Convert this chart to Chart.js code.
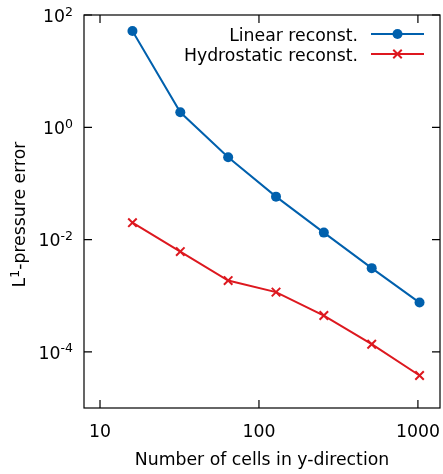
<!DOCTYPE html>
<html>
<head>
<meta charset="utf-8">
<script src="https://cdn.jsdelivr.net/npm/chart.js@4/dist/chart.umd.min.js"></script>
<style>
html,body{margin:0;padding:0;background:#fff;}
#wrap{width:443px;height:474px;}
</style>
</head>
<body>
<div id="wrap"><canvas id="c" width="443" height="474"></canvas></div>
<script>
const cells = [16, 32, 64, 128, 256, 512, 1024];
const linearErr = [51.9, 1.85, 0.293, 0.0582, 0.0133, 0.0031, 0.000755];
const hydroErr = [0.02, 0.00611, 0.00186, 0.00116, 0.000443, 0.000137, 3.79e-5];
const xTicks = [10, 100, 1000];
const xTickLabels = ['10', '100', '1000'];
const yTicks = [1e-4, 1e-2, 1e0, 1e2];
const yTickBase = '10';
const yTickExps = ['-4', '-2', '0', '2'];
const seriesNames = ['Linear reconst.', 'Hydrostatic reconst.'];
const seriesColors = ['#0060ad', '#dd181f'];
const xTitle = 'Number of cells in y-direction';
const yTitleParts = ['L', '1', '-pressure error'];

const FONT = "'DejaVu Sans', sans-serif";
const FS = 17.3;
const ES = 12.5;

const frameTicks = {
  id: 'frameTicks',
  afterDraw(chart) {
    const {ctx, chartArea: {left, right, top, bottom}, scales: {x, y}} = chart;
    ctx.save();
    ctx.strokeStyle = '#000';
    ctx.lineWidth = 1.2;
    ctx.strokeRect(left, top, right - left, bottom - top);
    const L = 8;
    ctx.beginPath();
    xTicks.forEach(v => {
      const px = x.getPixelForValue(v);
      ctx.moveTo(px, bottom); ctx.lineTo(px, bottom - L);
      ctx.moveTo(px, top); ctx.lineTo(px, top + L);
    });
    yTicks.forEach(v => {
      const py = y.getPixelForValue(v);
      ctx.moveTo(left, py); ctx.lineTo(left + L, py);
      ctx.moveTo(right, py); ctx.lineTo(right - L, py);
    });
    ctx.stroke();

    ctx.fillStyle = '#000';
    ctx.textBaseline = 'alphabetic';

    // x tick labels
    ctx.font = FS + 'px ' + FONT;
    ctx.textAlign = 'center';
    xTicks.forEach((v, i) => {
      ctx.fillText(xTickLabels[i], x.getPixelForValue(v), bottom + 29);
    });

    // y tick labels: base with raised exponent
    ctx.textAlign = 'left';
    yTicks.forEach((v, i) => {
      const py = y.getPixelForValue(v);
      ctx.font = ES + 'px ' + FONT;
      const ew = ctx.measureText(yTickExps[i]).width;
      ctx.font = FS + 'px ' + FONT;
      const bw = ctx.measureText(yTickBase).width;
      const x0 = left - 11 - ew - bw;
      ctx.fillText(yTickBase, x0, py + 6.8);
      ctx.font = ES + 'px ' + FONT;
      ctx.fillText(yTickExps[i], x0 + bw, py + 0.5);
    });

    // y title rotated
    ctx.save();
    ctx.translate(25, (top + bottom) / 2);
    ctx.rotate(-Math.PI / 2);
    ctx.font = FS + 'px ' + FONT;
    const w0 = ctx.measureText(yTitleParts[0]).width;
    const w2 = ctx.measureText(yTitleParts[2]).width;
    ctx.font = ES + 'px ' + FONT;
    const w1 = ctx.measureText(yTitleParts[1]).width;
    let tx = -(w0 + w1 + w2) / 2 - 3;
    ctx.font = FS + 'px ' + FONT;
    ctx.fillText(yTitleParts[0], tx, 0); tx += w0;
    ctx.font = ES + 'px ' + FONT;
    ctx.fillText(yTitleParts[1], tx, -6.5); tx += w1;
    ctx.font = FS + 'px ' + FONT;
    ctx.fillText(yTitleParts[2], tx, 0);
    ctx.restore();

    // legend
    ctx.font = FS + 'px ' + FONT;
    ctx.textAlign = 'right';
    const rows = [34, 54];
    chart.data.datasets.forEach((ds, i) => {
      const ry = rows[i];
      ctx.fillStyle = '#000';
      ctx.fillText(ds.label, 358, ry + 6.6);
      ctx.strokeStyle = ds.borderColor;
      ctx.lineWidth = 2;
      ctx.beginPath();
      ctx.moveTo(371, ry); ctx.lineTo(424, ry);
      ctx.stroke();
      const cx = 397.5;
      if (ds.pointStyle === 'circle') {
        ctx.fillStyle = ds.borderColor;
        ctx.beginPath();
        ctx.arc(cx, ry, ds.pointRadius, 0, Math.PI * 2);
        ctx.fill();
      } else {
        const d = ds.pointRadius * Math.SQRT1_2;
        ctx.beginPath();
        ctx.moveTo(cx - d, ry - d); ctx.lineTo(cx + d, ry + d);
        ctx.moveTo(cx - d, ry + d); ctx.lineTo(cx + d, ry - d);
        ctx.stroke();
      }
    });
    ctx.restore();
  }
};

new Chart(document.getElementById('c'), {
  type: 'line',
  data: {
    datasets: [
      {
        label: seriesNames[0],
        data: cells.map((c, i) => ({x: c, y: linearErr[i]})),
        borderColor: seriesColors[0],
        backgroundColor: seriesColors[0],
        borderWidth: 2,
        pointStyle: 'circle',
        pointRadius: 5,
        pointBorderWidth: 0,
        tension: 0
      },
      {
        label: seriesNames[1],
        data: cells.map((c, i) => ({x: c, y: hydroErr[i]})),
        borderColor: seriesColors[1],
        backgroundColor: seriesColors[1],
        borderWidth: 2,
        pointStyle: 'crossRot',
        pointRadius: 6,
        pointBorderWidth: 2,
        tension: 0
      }
    ]
  },
  options: {
    responsive: false,
    animation: false,
    devicePixelRatio: 1,
    layout: {autoPadding: false, padding: {top: 15, right: 3, left: 0, bottom: 0}},
    plugins: {legend: {display: false}, tooltip: {enabled: false}},
    scales: {
      x: {
        type: 'logarithmic',
        position: 'bottom',
        min: 7.93,
        max: 1377,
        afterBuildTicks(s) { s.ticks = xTicks.map(v => ({value: v})); },
        afterFit(s) { s.height = 66; s.paddingLeft = 0; s.paddingRight = 0; s.paddingTop = 0; s.paddingBottom = 0; },
        grid: {display: false, drawTicks: false},
        border: {display: false},
        ticks: {display: false},
        title: {
          display: true,
          text: xTitle,
          color: '#000',
          font: {family: FONT, size: FS},
          padding: {top: 0, bottom: 3.6}
        }
      },
      y: {
        type: 'logarithmic',
        position: 'left',
        min: 1e-5,
        max: 100,
        afterBuildTicks(s) { s.ticks = yTicks.map(v => ({value: v})); },
        afterFit(s) { s.width = 84; s.paddingLeft = 0; s.paddingRight = 0; s.paddingTop = 0; s.paddingBottom = 0; },
        grid: {display: false, drawTicks: false},
        border: {display: false},
        ticks: {display: false},
        title: {display: false}
      }
    }
  },
  plugins: [frameTicks]
});
</script>
</body>
</html>
